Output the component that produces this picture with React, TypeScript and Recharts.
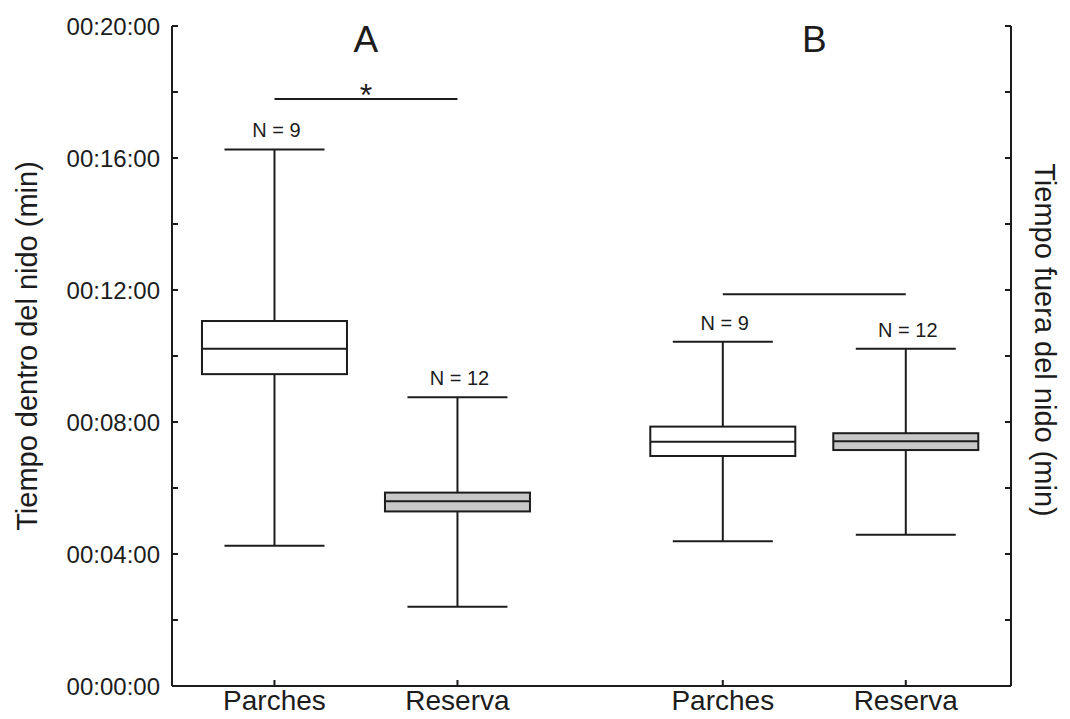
import React from 'react';
import { ComposedChart, Bar, Line, XAxis, YAxis, ReferenceLine, ReferenceDot } from 'recharts';

// Nest attendance times (minutes), two panels: A = inside nest, B = outside nest
const groupNames = ['Parches', 'Reserva', 'Parches', 'Reserva'];
const groupPositions = [1, 3, 5.9, 7.9];
const whiskerLow = [4.25, 2.4, 4.39, 4.58];
const quartile1 = [9.45, 5.29, 6.97, 7.15];
const medians = [10.22, 5.6, 7.4, 7.42];
const quartile3 = [11.06, 5.86, 7.86, 7.66];
const whiskerHigh = [16.26, 8.75, 10.43, 10.22];
const sampleSizes = [9, 12, 9, 12];
const boxFills = ['#ffffff', '#c8c8c8', '#ffffff', '#c8c8c8'];

const yTicks = [0, 2, 4, 6, 8, 10, 12, 14, 16, 18, 20];
const bracketLevels = [17.79, 11.87];
const panelLabels = ['A', 'B'];
const panelLabelLevel = 19.62;
const starLevel = 17.93;

const INK = '#1c1c1c';
const FONT = "Arial, 'Liberation Sans', Helvetica, sans-serif";

const rows = groupNames.map((name, i) => ({
  name,
  pos: groupPositions[i],
  low: whiskerLow[i],
  q1: quartile1[i],
  med: medians[i],
  q3: quartile3[i],
  high: whiskerHigh[i],
  n: sampleSizes[i],
  fill: boxFills[i],
}));

const pad2 = (v: number) => String(v).padStart(2, '0');
const formatTime = (v: number) => (v % 4 === 0 ? `00:${pad2(v)}:00` : '');

// Box-and-whisker glyph drawn inside the range bar [low, high]
const BoxShape = (props: any) => {
  const { x, y, width, height, payload } = props;
  if (payload == null || height == null) return null;
  const { low, high, q1, med, q3, n, fill } = payload;
  const toY = (v: number) => y + ((high - v) / (high - low)) * height;
  const cx = x + width / 2;
  const capHalf = (width * 100) / 145 / 2;
  const yQ3 = toY(q3);
  const yQ1 = toY(q1);
  const yMed = toY(med);
  const yLow = y + height;
  return (
    <g>
      <line x1={cx} x2={cx} y1={y} y2={yLow} stroke={INK} strokeWidth={2} />
      <line x1={cx - capHalf} x2={cx + capHalf} y1={y} y2={y} stroke={INK} strokeWidth={2} />
      <line x1={cx - capHalf} x2={cx + capHalf} y1={yLow} y2={yLow} stroke={INK} strokeWidth={2} />
      <rect x={x} y={yQ3} width={width} height={yQ1 - yQ3} fill={fill} stroke={INK} strokeWidth={2} />
      <line x1={x} x2={x + width} y1={yMed} y2={yMed} stroke={INK} strokeWidth={2} />
      <text x={cx + 2} y={y - 12} textAnchor="middle" fontSize={20} fill={INK} fontFamily={FONT}>
        {`N = ${n}`}
      </text>
    </g>
  );
};

const LeftTitle = (props: any) => {
  const { viewBox } = props;
  const cx = viewBox.x - 45;
  const cy = viewBox.y + viewBox.height / 2 - 10;
  return (
    <text
      transform={`translate(${cx}, ${cy}) rotate(-90)`}
      textAnchor="middle"
      dominantBaseline="central"
      fontSize={29}
      fill={INK}
      fontFamily={FONT}
    >
      Tiempo dentro del nido (min)
    </text>
  );
};

const RightTitle = (props: any) => {
  const { viewBox } = props;
  const cx = viewBox.x + viewBox.width + 24;
  const cy = viewBox.y + viewBox.height / 2 - 16;
  return (
    <text
      transform={`translate(${cx}, ${cy}) rotate(90)`}
      textAnchor="middle"
      dominantBaseline="central"
      fontSize={29}
      fill={INK}
      fontFamily={FONT}
    >
      Tiempo fuera del nido (min)
    </text>
  );
};

export default function App() {
  const xTickLabel = (v: number) => {
    const i = groupPositions.indexOf(v);
    return i >= 0 ? groupNames[i] : '';
  };
  const panelCenters = [
    (groupPositions[0] + groupPositions[1]) / 2,
    (groupPositions[2] + groupPositions[3]) / 2,
  ];
  return (
    <div style={{ position: 'absolute', left: 0, top: 0, background: '#fff' }}>
      <ComposedChart
        width={1070}
        height={719}
        data={rows}
        margin={{ top: 26, right: 49, bottom: 3, left: 72 }}
        style={{ fontFamily: FONT }}
      >
        <XAxis
          dataKey="pos"
          type="number"
          domain={[-0.12, 9.05]}
          ticks={groupPositions}
          tickFormatter={xTickLabel}
          height={30}
          tickSize={-6}
          tickMargin={10}
          axisLine={{ stroke: INK, strokeWidth: 2 }}
          tickLine={{ stroke: INK, strokeWidth: 2 }}
          tick={{ fontSize: 28, fill: INK }}
          interval={0}
        />
        <YAxis
          yAxisId="left"
          type="number"
          domain={[0, 20]}
          ticks={yTicks}
          tickFormatter={formatTime}
          width={100}
          tickSize={-6}
          tickMargin={18}
          axisLine={{ stroke: INK, strokeWidth: 2 }}
          tickLine={{ stroke: INK, strokeWidth: 2 }}
          tick={{ fontSize: 24, fill: INK }}
          interval={0}
          label={<LeftTitle />}
        />
        <YAxis
          yAxisId="right"
          orientation="right"
          type="number"
          domain={[0, 20]}
          ticks={yTicks}
          tickFormatter={() => ''}
          width={10}
          tickSize={-6}
          axisLine={{ stroke: INK, strokeWidth: 2 }}
          tickLine={{ stroke: INK, strokeWidth: 2 }}
          tick={{ fontSize: 12, fill: 'none' }}
          interval={0}
          label={<RightTitle />}
        />
        <Bar
          yAxisId="left"
          dataKey={(d: any) => [d.low, d.high]}
          barSize={145}
          shape={BoxShape}
          isAnimationActive={false}
        />
        {/* hidden series so the right-hand axis has a bound item and draws its ticks */}
        <Line
          yAxisId="right"
          dataKey="med"
          stroke="none"
          dot={false}
          activeDot={false}
          isAnimationActive={false}
        />
        {bracketLevels.map((lvl, k) => (
          <ReferenceLine
            key={`br-${k}`}
            yAxisId="left"
            segment={[
              { x: groupPositions[2 * k], y: lvl },
              { x: groupPositions[2 * k + 1], y: lvl },
            ]}
            stroke={INK}
            strokeWidth={2}
          />
        ))}
        <ReferenceDot
          yAxisId="left"
          x={panelCenters[0]}
          y={starLevel}
          r={0}
          stroke="none"
          fill="none"
          label={{ value: '*', position: 'center', fontSize: 32, fill: INK }}
        />
        {panelLabels.map((lab, k) => (
          <ReferenceDot
            key={`pl-${k}`}
            yAxisId="left"
            x={panelCenters[k]}
            y={panelLabelLevel}
            r={0}
            stroke="none"
            fill="none"
            label={{ value: lab, position: 'center', fontSize: 37, fill: INK }}
          />
        ))}
      </ComposedChart>
    </div>
  );
}
